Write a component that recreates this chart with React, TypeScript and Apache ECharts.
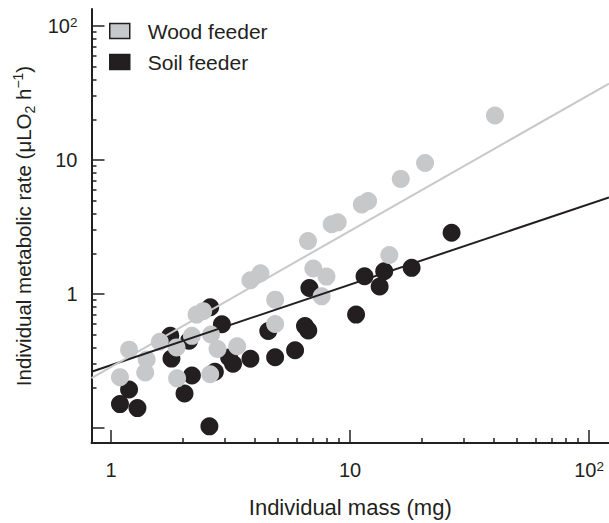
import React, { useEffect, useRef } from "react";
import * as echarts from "echarts";

// Wood feeders: individual mass (mg) and metabolic rate (µLO2 h-1)
const woodMass = [1.09, 1.19, 1.39, 1.41, 1.6, 1.88, 1.89, 2.18, 2.28, 2.43, 2.62, 2.79, 2.6, 3.37, 3.83, 4.22, 4.86, 4.86, 6.67, 7.02, 7.97, 7.61, 8.38, 8.88, 11.2, 11.9, 14.6, 16.3, 20.6, 40.4];
const woodRate = [0.24, 0.385, 0.26, 0.325, 0.441, 0.4, 0.235, 0.488, 0.703, 0.746, 0.5, 0.389, 0.252, 0.408, 1.27, 1.43, 0.909, 0.598, 2.49, 1.55, 1.35, 0.962, 3.32, 3.43, 4.66, 4.95, 1.96, 7.24, 9.5, 21.5];

// Soil feeders
const soilMass = [1.09, 1.19, 1.29, 1.77, 1.79, 2.03, 2.18, 2.12, 2.6, 2.91, 2.72, 2.58, 3.24, 3.12, 3.83, 4.55, 4.86, 5.89, 6.48, 6.69, 6.76, 10.6, 11.5, 13.9, 13.3, 18.1, 26.6];
const soilRate = [0.151, 0.194, 0.141, 0.488, 0.33, 0.181, 0.247, 0.448, 0.798, 0.595, 0.263, 0.103, 0.302, 0.336, 0.329, 0.531, 0.338, 0.381, 0.578, 0.536, 1.11, 0.703, 1.36, 1.48, 1.14, 1.57, 2.87];

// Power-law fits: rate = coefficient * mass ^ exponent
const woodFit = [0.286, 1.015];
const soilFit = [0.295, 0.601];

// Axis extents (mg, µLO2 h-1)
const massRange = [0.8286, 121.2];
const rateRange = [0.0774, 134.1];

// Ticks
const massMajorTicks = [1, 10, 100];
const massMinorTicks = [2, 3, 4, 5, 6, 7, 8, 9, 20, 30, 40, 50, 60, 70, 80, 90];
const rateMajorTicks = [0.1, 1, 10, 100];
const rateMinorTicks = [0.2, 0.3, 0.4, 0.5, 0.6, 0.7, 0.8, 0.9, 2, 3, 4, 5, 6, 7, 8, 9, 20, 30, 40, 50, 60, 70, 80, 90];
const massLabelValues = [1, 10, 100];
const rateLabelValues = [1, 10, 100];
const tickLabelText = ["1", "10", "10²"];

const seriesNames = ["Wood feeder", "Soil feeder"];

const WOOD = "#c7c8ca";
const SOIL = "#231f20";
const INK = "#231f20";
const FONT = "'Liberation Sans', Arial, Helvetica, sans-serif";

const L = (v: number) => Math.log10(v);

const labelFormatter = (v: number) => {
  const i = Math.round(v);
  const t = tickLabelText[i] ?? "";
  if (t === "10²") return "{a|10}{s|2}";
  return "{a|" + t + "}";
};

const labelRich = {
  a: { fontSize: 20, fontFamily: FONT, color: INK, lineHeight: 22 },
  s: { fontSize: 13.5, fontFamily: FONT, color: INK, lineHeight: 12, verticalAlign: "top" as const },
};

export default function App() {
  const ref = useRef<HTMLDivElement>(null);

  useEffect(() => {
    if (!ref.current) return;
    const chart = echarts.init(ref.current, null, { renderer: "svg" });

    const xMin = L(massRange[0]);
    const xMax = L(massRange[1]);
    const yMin = L(rateRange[0]);
    const yMax = L(rateRange[1]);

    const fitLine = (fit: number[]) => [
      [xMin, L(fit[0]) + fit[1] * xMin],
      [xMax, L(fit[0]) + fit[1] * xMax],
    ];

    const option: any = {
      animation: false,
      textStyle: { fontFamily: FONT },
      grid: { left: 91.5, top: 9, right: 0, bottom: 74.5, containLabel: false },
      legend: {
        data: seriesNames,
        orient: "vertical",
        left: 109,
        top: 20.5,
        padding: 0,
        icon: "rect",
        itemWidth: 20,
        itemHeight: 15,
        itemGap: 10,
        selectedMode: false,
        itemStyle: { borderColor: INK, borderWidth: 1.5, opacity: 1 },
        textStyle: { fontSize: 21, fontFamily: FONT, color: INK, padding: [0, 0, 0, 13] },
      },
      xAxis: [
        {
          type: "value",
          min: xMin,
          max: xMax,
          position: "bottom",
          axisLine: { onZero: false, lineStyle: { color: INK, width: 2 } },
          axisTick: { inside: true, length: 13, customValues: massMajorTicks.map(L), lineStyle: { color: INK, width: 1.5 } },
          axisLabel: { customValues: massLabelValues.map(L), formatter: labelFormatter, margin: 16, rich: labelRich },
          splitLine: { show: false },
          name: "Individual mass (mg)",
          nameLocation: "middle",
          nameGap: 53,
          nameTextStyle: { fontSize: 22, fontFamily: FONT, color: INK },
        },
        {
          type: "value",
          min: xMin,
          max: xMax,
          position: "bottom",
          axisLine: { show: false, onZero: false },
          axisTick: { inside: true, length: 5, customValues: massMinorTicks.map(L), lineStyle: { color: INK, width: 1.5 } },
          axisLabel: { show: false },
          splitLine: { show: false },
        },
      ],
      yAxis: [
        {
          type: "value",
          min: yMin,
          max: yMax,
          position: "left",
          axisLine: { onZero: false, lineStyle: { color: INK, width: 2 } },
          axisTick: { inside: true, length: 13, customValues: rateMajorTicks.map(L), lineStyle: { color: INK, width: 1.5 } },
          axisLabel: { customValues: rateLabelValues.map(L), formatter: labelFormatter, margin: 14, rich: labelRich },
          splitLine: { show: false },
          name: "{t|Individual metabolic rate (μLO}{sub|2}{t| h}{sup|−1}{t|)}",
          nameLocation: "middle",
          nameRotate: 90,
          nameGap: 52,
          nameTextStyle: {
            rich: {
              t: { fontSize: 20.5, fontFamily: FONT, color: INK, lineHeight: 26 },
              sub: { fontSize: 14, fontFamily: FONT, color: INK, lineHeight: 14, verticalAlign: "bottom" },
              sup: { fontSize: 14, fontFamily: FONT, color: INK, lineHeight: 14, verticalAlign: "top" },
            },
          },
        },
        {
          type: "value",
          min: yMin,
          max: yMax,
          position: "left",
          axisLine: { show: false, onZero: false },
          axisTick: { inside: true, length: 5, customValues: rateMinorTicks.map(L), lineStyle: { color: INK, width: 1.5 } },
          axisLabel: { show: false },
          splitLine: { show: false },
        },
      ],
      series: [
        {
          name: seriesNames[1],
          type: "scatter",
          symbol: "circle",
          symbolSize: 18,
          itemStyle: { color: SOIL, opacity: 1 },
          data: soilMass.map((m, i) => [L(m), L(soilRate[i])]),
          z: 2,
        },
        {
          name: seriesNames[0],
          type: "scatter",
          symbol: "circle",
          symbolSize: 18,
          itemStyle: { color: WOOD, opacity: 1 },
          data: woodMass.map((m, i) => [L(m), L(woodRate[i])]),
          z: 3,
        },
        {
          name: "Soil fit",
          type: "line",
          symbol: "none",
          lineStyle: { color: SOIL, width: 2 },
          data: fitLine(soilFit),
          z: 4,
        },
        {
          name: "Wood fit",
          type: "line",
          symbol: "none",
          lineStyle: { color: WOOD, width: 2 },
          data: fitLine(woodFit),
          z: 4,
        },
      ],
    };

    chart.setOption(option);
    return () => chart.dispose();
  }, []);

  return <div ref={ref} style={{ position: "absolute", left: 0, top: 0, width: 609, height: 523 }} />;
}
